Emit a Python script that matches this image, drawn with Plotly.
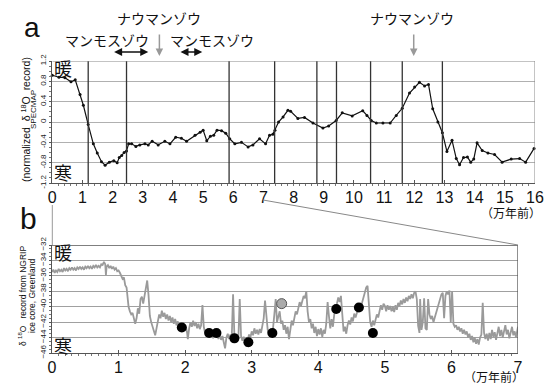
import plotly.graph_objects as go

W, H = 547, 385

# ---------------- data ----------------
# SPECMAP normalized d18O (top panel), x in 万年前
spec_x = [0.00, 0.22, 0.42, 0.62, 0.76, 0.92, 1.03, 1.19, 1.36, 1.49, 1.63, 1.75, 1.89, 2.04, 2.15,
          2.22, 2.30, 2.38, 2.46, 2.53, 2.63, 2.77, 2.90, 3.07, 3.18, 3.31, 3.51, 3.73, 3.90, 4.09,
          4.28, 4.45, 4.73, 4.90, 5.00, 5.12, 5.24, 5.35, 5.46, 5.61, 5.75, 5.88, 6.05, 6.27, 6.49,
          6.65, 6.87, 7.07, 7.20, 7.31, 7.38, 7.50, 7.65, 7.81, 7.90, 8.14, 8.36, 8.64, 8.97, 9.16,
          9.41, 9.61, 9.94, 10.29, 10.43, 10.57, 10.74, 10.96, 11.20, 11.40, 11.60, 11.84, 12.01,
          12.17, 12.34, 12.47, 12.61, 12.78, 12.93, 13.08, 13.25, 13.39, 13.50, 13.63, 13.76, 13.87,
          13.97, 14.08, 14.25, 14.44, 14.66, 14.91, 15.21, 15.49, 15.69, 15.97]
spec_y = [0.92, 0.88, 0.87, 0.79, 0.83, 0.54, 0.33, -0.05, -0.43, -0.61, -0.78, -0.85, -0.79, -0.76, -0.80,
          -0.70, -0.66, -0.60, -0.57, -0.43, -0.43, -0.48, -0.45, -0.43, -0.45, -0.38, -0.45, -0.38, -0.43, -0.30,
          -0.32, -0.38, -0.26, -0.20, -0.16, -0.37, -0.28, -0.26, -0.16, -0.17, -0.22, -0.33, -0.43, -0.40, -0.49,
          -0.45, -0.33, -0.43, -0.26, -0.24, -0.16, 0.00, 0.10, 0.23, 0.21, 0.07, 0.09, -0.02, -0.12, -0.08,
          0.03, 0.18, 0.12, 0.22, 0.13, 0.03, -0.02, -0.02, -0.02, 0.13, 0.27, 0.57, 0.69,
          0.78, 0.71, 0.74, 0.26, 0.00, -0.21, -0.58, -0.36, -0.72, -0.84, -0.70, -0.69, -0.79,
          -0.73, -0.41, -0.56, -0.61, -0.64, -0.79, -0.73, -0.72, -0.79, -0.52]

# Stage boundaries (vertical lines, top panel)
boundaries = [1.19, 2.46, 5.86, 7.37, 8.77, 9.42, 10.55, 11.60, 12.93]

# NGRIP d18O (bottom panel)
ngrip_x = [0.00, 0.02, 0.04, 0.06, 0.08, 0.10, 0.12, 0.14, 0.16, 0.18, 0.20, 0.22, 0.24, 0.26, 0.28, 0.30,
           0.32, 0.34, 0.36, 0.38, 0.40, 0.42, 0.44, 0.46, 0.48, 0.50, 0.52, 0.54, 0.56, 0.58, 0.60, 0.62,
           0.64, 0.66, 0.68, 0.70, 0.72, 0.74, 0.76, 0.78, 0.80, 0.81, 0.82, 0.84, 0.86, 0.88, 0.90, 0.92,
           0.94, 0.96, 0.98, 1.00, 1.02, 1.04, 1.06, 1.08, 1.10, 1.12, 1.13, 1.15, 1.17, 1.19, 1.21, 1.23,
           1.25, 1.27, 1.29, 1.31, 1.33, 1.35, 1.37, 1.39, 1.41, 1.43, 1.45, 1.47, 1.49, 1.51, 1.53, 1.55,
           1.57, 1.59, 1.61, 1.63, 1.65, 1.67, 1.69, 1.71, 1.73, 1.75, 1.77, 1.79, 1.81, 1.83, 1.85, 1.87,
           1.89, 1.91, 1.93, 1.95, 1.97, 1.99, 2.01, 2.03, 2.04, 2.06, 2.08, 2.10, 2.12, 2.14, 2.16, 2.18,
           2.20, 2.22, 2.24, 2.26, 2.28, 2.30, 2.32, 2.34, 2.36, 2.38, 2.40, 2.42, 2.44, 2.46, 2.48, 2.50,
           2.52, 2.54, 2.56, 2.58, 2.60, 2.62, 2.64, 2.66, 2.68, 2.70, 2.72, 2.74, 2.76, 2.78, 2.80, 2.82,
           2.84, 2.86, 2.88, 2.90, 2.92, 2.94, 2.96, 2.98, 3.00, 3.02, 3.04, 3.06, 3.08, 3.10, 3.12, 3.14,
           3.16, 3.18, 3.20, 3.22, 3.24, 3.26, 3.28, 3.30, 3.32, 3.34, 3.36, 3.38, 3.40, 3.42, 3.44, 3.46,
           3.48, 3.50, 3.52, 3.54, 3.56, 3.58, 3.60, 3.62, 3.64, 3.66, 3.68, 3.70, 3.72, 3.74, 3.76, 3.78,
           3.80, 3.82, 3.84, 3.86, 3.88, 3.90, 3.92, 3.94, 3.96, 3.98, 4.00, 4.02, 4.04, 4.06, 4.08, 4.10,
           4.12, 4.14, 4.16, 4.18, 4.20, 4.22, 4.24, 4.26, 4.28, 4.30, 4.32, 4.34, 4.36, 4.38, 4.40, 4.42,
           4.44, 4.46, 4.48, 4.50, 4.52, 4.54, 4.56, 4.58, 4.60, 4.62, 4.64, 4.66, 4.68, 4.70, 4.72, 4.74,
           4.76, 4.78, 4.80, 4.82, 4.84, 4.86, 4.88, 4.90, 4.92, 4.94, 4.96, 4.98, 5.00, 5.02, 5.04, 5.06,
           5.08, 5.10, 5.12, 5.14, 5.16, 5.18, 5.20, 5.22, 5.24, 5.26, 5.28, 5.30, 5.32, 5.34, 5.36, 5.38,
           5.40, 5.42, 5.44, 5.46, 5.48, 5.50, 5.52, 5.53, 5.55, 5.57, 5.59, 5.61, 5.63, 5.65, 5.67, 5.69,
           5.71, 5.73, 5.75, 5.77, 5.79, 5.81, 5.83, 5.85, 5.87, 5.89, 5.91, 5.93, 5.95, 5.97, 5.99, 6.01,
           6.03, 6.05, 6.07, 6.09, 6.11, 6.13, 6.15, 6.17, 6.19, 6.21, 6.23, 6.25, 6.27, 6.29, 6.31, 6.33,
           6.35, 6.37, 6.39, 6.41, 6.43, 6.45, 6.47, 6.49, 6.51, 6.53, 6.55, 6.57, 6.59, 6.61, 6.63, 6.65,
           6.67, 6.69, 6.71, 6.73, 6.75, 6.77, 6.79, 6.81, 6.83, 6.85, 6.87, 6.89, 6.91, 6.93, 6.95, 6.97,
           6.99, 7.00]
ngrip_y = [-35.5, -35.2, -35.6, -35.3, -35.5, -35.1, -35.4, -35.2, -35.5, -35.0, -35.3, -35.1, -35.4, -35.0, -35.2, -34.9,
           -35.2, -35.0, -35.3, -34.9, -35.1, -34.8, -35.1, -34.9, -35.2, -34.8, -35.0, -34.7, -35.0, -34.8, -35.1, -34.7,
           -34.9, -34.6, -34.9, -34.7, -34.9, -34.5, -34.6, -34.2, -34.5, -35.9, -34.8, -34.6, -35.0, -34.7, -35.1, -34.8,
           -35.2, -35.0, -35.4, -35.3, -35.6, -36.0, -36.4, -36.2, -37.2, -37.5, -38.8, -40.0, -40.6, -41.0, -40.8, -41.6,
           -42.2, -41.5, -40.2, -40.9, -39.0, -38.7, -39.6, -38.6, -37.5, -36.6, -38.5, -41.2, -42.0, -42.6, -43.4, -43.7,
           -42.8, -42.0, -41.0, -41.5, -40.5, -41.3, -40.8, -41.6, -41.0, -41.8, -41.2, -42.0, -41.4, -42.2, -41.6, -42.4,
           -41.9, -42.6, -42.2, -42.9, -42.4, -43.1, -42.6, -43.4, -44.2, -42.8, -42.0, -42.6, -41.8, -42.5, -42.0, -42.8,
           -42.2, -42.9, -42.4, -39.8, -42.6, -43.4, -43.0, -43.8, -43.2, -44.0, -43.4, -44.1, -43.5, -43.9, -43.3, -44.2,
           -43.6, -44.3, -43.8, -44.6, -45.4, -44.0, -43.5, -44.2, -43.6, -44.0, -38.4, -43.8, -44.2, -43.6, -44.0, -39.0,
           -43.8, -44.4, -43.9, -44.6, -45.2, -44.3, -43.6, -44.0, -43.2, -43.7, -42.8, -43.5, -43.0, -43.6, -42.9, -43.4,
           -42.6, -41.5, -39.2, -41.0, -43.0, -43.6, -43.2, -43.8, -42.8, -41.0, -39.0, -42.0, -41.4, -40.6, -42.2, -41.8,
           -43.0, -42.4, -43.5, -42.6, -44.2, -42.8, -41.8, -42.4, -41.2, -40.6, -41.0, -40.0, -39.4, -39.9, -39.0, -38.6,
           -38.9, -38.0, -40.6, -42.0, -41.6, -42.8, -42.2, -43.4, -42.6, -43.8, -42.9, -43.6, -42.8, -43.9, -43.0, -43.5,
           -42.2, -39.4, -41.2, -42.8, -41.6, -42.6, -41.0, -40.4, -39.6, -38.8, -39.4, -38.6, -40.8, -43.2, -42.6, -43.5,
           -42.4, -41.8, -42.3, -41.4, -41.9, -40.9, -41.4, -40.6, -40.2, -39.8, -40.3, -39.4, -38.8, -38.2, -37.5, -37.3,
           -39.5, -42.0, -42.6, -41.8, -42.4, -41.6, -41.0, -41.4, -40.6, -39.8, -40.4, -39.6, -39.9, -40.6, -39.8, -40.4,
           -39.9, -40.6, -40.0, -40.7, -39.8, -40.4, -39.5, -39.9, -39.2, -39.7, -39.0, -39.5, -38.8, -39.3, -38.6, -39.0,
           -38.4, -38.9, -38.2, -38.0, -39.0, -42.5, -43.4, -39.0, -43.0, -42.0, -38.9, -42.8, -43.0, -39.0, -41.0, -41.6,
           -41.2, -42.0, -41.4, -40.8, -40.0, -39.4, -38.8, -38.4, -38.2, -41.5, -38.6, -38.0, -38.4, -37.9, -42.0, -38.0,
           -42.2, -42.6, -42.4, -43.0, -42.6, -43.2, -42.8, -43.5, -43.0, -43.6, -43.2, -44.0, -43.5, -44.3, -43.8, -44.6,
           -44.0, -44.8, -44.2, -44.9, -44.0, -43.6, -39.5, -43.4, -44.2, -43.5, -44.4, -43.4, -44.2, -43.0, -43.9, -43.3,
           -44.3, -43.2, -42.6, -43.8, -43.0, -44.0, -43.2, -42.4, -43.6, -43.0, -44.1, -43.1, -42.6, -43.7, -43.2, -44.0,
           -42.8, -42.6]

# Fossil dates (black dots) and one grey dot
dots_x = [1.95, 2.36, 2.47, 2.74, 2.95, 3.31, 4.27, 4.61, 4.82]
dots_y = [-42.7, -43.4, -43.4, -44.1, -44.6, -43.4, -40.3, -40.1, -43.4]
grey_dot_x = [3.45]
grey_dot_y = [-39.6]

top_xticks = list(range(0, 17))
top_yticks = [-1.2, -0.8, -0.4, 0, 0.4, 0.8, 1.2]
bot_xticks = list(range(0, 8))
bot_yticks = [-46, -44, -42, -40, -38, -36, -34, -32]

# ---------------- layout helpers ----------------
def px(x):
    return x / W

def py(y):
    return 1 - y / H

FONT = "Liberation Sans, Arial, sans-serif"
JP = "Noto Sans CJK JP, sans-serif"

fig = go.Figure()

fig.add_trace(go.Scatter(x=spec_x, y=spec_y, mode="lines+markers",
                         line=dict(color="#111111", width=1.2),
                         marker=dict(size=3, color="#111111"),
                         xaxis="x", yaxis="y", showlegend=False, cliponaxis=False))
fig.add_trace(go.Scatter(x=ngrip_x, y=ngrip_y, mode="lines",
                         line=dict(color="#9a9a9a", width=1.8),
                         xaxis="x2", yaxis="y2", showlegend=False))
fig.add_trace(go.Scatter(x=dots_x, y=dots_y, mode="markers",
                         marker=dict(size=10, color="#000000"),
                         xaxis="x2", yaxis="y2", showlegend=False))
fig.add_trace(go.Scatter(x=grey_dot_x, y=grey_dot_y, mode="markers",
                         marker=dict(size=10, color="#aaaaaa", line=dict(color="#555555", width=1)),
                         xaxis="x2", yaxis="y2", showlegend=False))

axis_common = dict(showline=True, linecolor="#555555", linewidth=1, mirror=False, automargin=False,
                   zeroline=False, tickcolor="#555555")

fig.update_layout(
    width=W, height=H, margin=dict(l=0, r=0, t=0, b=0, pad=0), autosize=False,
    paper_bgcolor="white", plot_bgcolor="white",
    xaxis=dict(domain=[px(52.3), px(535)], range=[0, 16], tickvals=top_xticks,
               showgrid=False, anchor="y", ticks="inside", ticklen=3,
               tickfont=dict(family=FONT, size=16, color="#111"),
               minor=dict(dtick=0.2, ticklen=2, tickcolor="#777", ticks="outside"),
               **axis_common),
    yaxis=dict(domain=[py(183), py(61)], range=[-1.2, 1.2], tickvals=top_yticks,
               ticktext=["-1.2", "-0.8", "-0.4", "0", "0.4", "0.8", "1.2"],
               tickangle=-90, showgrid=True, gridcolor="#b0b0b0", gridwidth=1,
               ticks="outside", ticklen=2,
               tickfont=dict(family=FONT, size=8, color="#222"), anchor="x",
               minor=dict(dtick=0.1, ticklen=2, tickcolor="#777", ticks="outside"),
               **axis_common),
    xaxis2=dict(domain=[px(52), px(518)], range=[0, 7], tickvals=bot_xticks,
                showgrid=False, anchor="y2", ticks="inside", ticklen=3,
                tickfont=dict(family=FONT, size=16, color="#111"),
                minor=dict(dtick=0.1, ticklen=2, tickcolor="#777", ticks="outside"),
                **axis_common),
    yaxis2=dict(domain=[py(353), py(245)], range=[-46, -32], tickvals=bot_yticks,
                tickangle=-90, showgrid=True, gridcolor="#a0a0a0", gridwidth=1,
                ticks="outside", ticklen=2,
                tickfont=dict(family=FONT, size=8, color="#222"), anchor="x2",
                minor=dict(dtick=0.5, ticklen=2, tickcolor="#777", ticks="outside"),
                **axis_common),
)

shapes = []
# stage boundaries
for b in boundaries:
    shapes.append(dict(type="line", xref="x", yref="y", x0=b, x1=b, y0=-1.2, y1=1.2,
                       line=dict(color="#333333", width=1.3)))
# top panel frame (top & right)
shapes.append(dict(type="line", xref="x", yref="y", x0=0, x1=16, y0=1.2, y1=1.2,
                   line=dict(color="#888888", width=1)))
shapes.append(dict(type="line", xref="x", yref="y", x0=16, x1=16, y0=-1.2, y1=1.2,
                   line=dict(color="#888888", width=1)))
# bottom panel frame
shapes.append(dict(type="line", xref="x2", yref="y2", x0=0, x1=7, y0=-32, y1=-32,
                   line=dict(color="#555555", width=1.3)))
shapes.append(dict(type="line", xref="x2", yref="y2", x0=7, x1=7, y0=-46, y1=-32,
                   line=dict(color="#555555", width=1.3)))
# zoom connector lines
shapes.append(dict(type="line", xref="paper", yref="paper", x0=px(52.3), x1=px(52.3),
                   y0=py(205), y1=py(245), line=dict(color="#999999", width=1)))
shapes.append(dict(type="line", xref="paper", yref="paper", x0=px(263), x1=px(518),
                   y0=py(200), y1=py(245), line=dict(color="#888888", width=1)))
fig.update_layout(shapes=shapes)

ann = []
def text(x, y, s, size, family=JP, color="#111", angle=0):
    ann.append(dict(x=px(x), y=py(y), xref="paper", yref="paper", text=s, showarrow=False,
                    font=dict(family=family, size=size, color=color), textangle=angle,
                    xanchor="center", yanchor="middle"))

text(32, 27, "a", 28, family=FONT)
text(28, 218, "b", 30, family=FONT)
text(159, 18, "ナウマンゾウ", 14)
text(412, 18, "ナウマンゾウ", 14)
text(107, 40, "マンモスゾウ", 14)
text(212, 40, "マンモスゾウ", 14)
text(63, 68, "暖", 18)
text(63, 172, "寒", 18)
text(63, 252, "暖", 18)
text(63, 345, "寒", 18)
text(511, 213, "（万年前）", 12)
text(494, 376, "（万年前）", 12)
text(25, 120, "(normalized  δ <sup>18</sup>O  record)", 10.5, family=FONT, angle=-90)
text(33, 110, "SPECMAP", 8, family=FONT, angle=-90)
text(22, 296, "δ <sup>18</sup>O   record from NGRIP", 8.5, family=FONT, angle=-90)
text(32, 296, "ice core, Greenland", 8.5, family=FONT, angle=-90)

# grey arrows (ナウマンゾウ)
for xa in [3.55, 11.98]:
    ann.append(dict(x=xa, y=py(56), xref="x", yref="paper", ax=0, ay=-23, text="",
                    showarrow=True, arrowhead=2, arrowsize=1, arrowwidth=1.5, arrowcolor="#999999"))
# black double arrows (マンモスゾウ)
for a0, a1 in [(2.0, 3.18), (4.2, 4.97)]:
    ann.append(dict(x=a1, y=py(52), xref="x", yref="paper", axref="x", ax=a0, ayref="pixel", ay=0,
                    text="", showarrow=True, arrowhead=2, startarrowhead=2, arrowside="end+start",
                    arrowsize=1, startarrowsize=1, arrowwidth=1.6, arrowcolor="#111111"))
fig.update_layout(annotations=ann)

fig.write_html("out.html", config={"displayModeBar": False},
               post_script="document.body.style.margin='0';document.body.style.padding='0';document.body.style.overflow='hidden';")
